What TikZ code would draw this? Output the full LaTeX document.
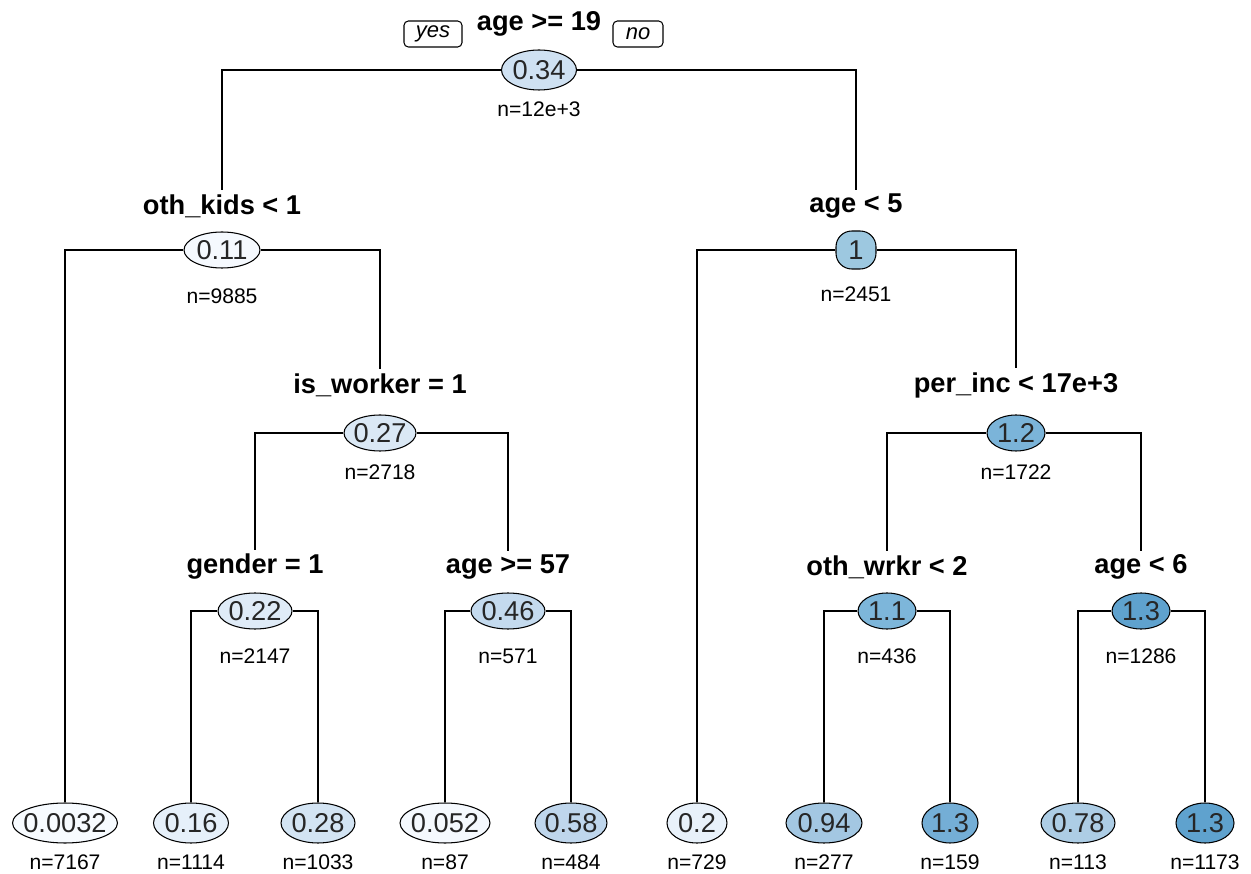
\documentclass[tikz,border=0pt]{standalone}
\usepackage{fontspec}
\setmainfont{Liberation Sans}
\usepackage{tikz}
\usetikzlibrary{shapes.geometric}
\definecolor{c0032}{HTML}{F7FBFF}
\definecolor{c011}{HTML}{F5F9FE}
\definecolor{c016}{HTML}{E6F0FA}
\definecolor{c02}{HTML}{E8F1FA}
\definecolor{c022}{HTML}{DFEBF7}
\definecolor{c027}{HTML}{DAE8F5}
\definecolor{c028}{HTML}{D3E4F3}
\definecolor{c034}{HTML}{CFE1F2}
\definecolor{c046}{HTML}{C4DAEE}
\definecolor{c052}{HTML}{F5F9FE}
\definecolor{c058}{HTML}{BFD6EC}
\definecolor{c078}{HTML}{ADCDE5}
\definecolor{c094}{HTML}{A3C7E2}
\definecolor{c1}{HTML}{9DC8E0}
\definecolor{c11}{HTML}{7DB6DA}
\definecolor{c12}{HTML}{7BB4D9}
\definecolor{c13a}{HTML}{74AED6}
\definecolor{c13b}{HTML}{5FA2CE}

\begin{document}
\begin{tikzpicture}[x=0.02cm, y=-0.02cm, line width=0.6pt,
		split/.style={font=\fontsize{15.5}{18}\selectfont\bfseries, inner sep=2pt},
		val/.style={ellipse, draw, inner xsep=-4pt, inner ysep=0pt,
			minimum height=0.72cm, text=black!85, font=\fontsize{15.5}{18}\selectfont},
		leaf/.style={val, minimum height=0.8cm},
		cnt/.style={font=\fontsize{12}{14}\selectfont},
		yn/.style={draw, rounded corners=2.5pt, inner sep=0pt, minimum height=0.52cm,
			font=\fontsize{12.5}{14}\selectfont\itshape}]
		\useasboundingbox (0,0) rectangle (1251,874);
		% root
		\node(s0)[split] at (539,24){age >= 19};
		\node(yes)[yn, minimum width=1.16cm] at (433,34){yes};
		\node(no)[yn, minimum width=1cm] at (638,34){no};
		\node(v0)[val, fill=c034, minimum width=1.5cm, minimum height=0.8cm] at (539,70){0.34};
		\node(n0)[cnt] at (539,109){n=12e+3};
		% internal splits
		\node(s1)[split] at (222,206){oth\_kids < 1};
		\node(v1)[val, fill=c011, minimum width=1.52cm] at (222,250){0.11};
		\node(n1)[cnt] at (222,296){n=9885};
		\node(s2)[split] at (856,206){age < 5};
		\node(v2)[draw, fill=c1, rounded corners=9pt, inner sep=0pt, minimum width=0.8cm,
			minimum height=0.76cm, text=black!85, font=\fontsize{15.5}{18}\selectfont] at (856,250){1};
		\node(n2)[cnt] at (856,294){n=2451};
		\node(s3)[split] at (380,385){is\_worker = 1};
		\node(v3)[val, fill=c027, minimum width=1.44cm] at (380,433){0.27};
		\node(n3)[cnt] at (380,472){n=2718};
		\node(s4)[split] at (1016,385){per\_inc < 17e+3};
		\node(v4)[val, fill=c12, minimum width=1.16cm] at (1016,433){1.2};
		\node(n4)[cnt] at (1016,472){n=1722};
		\node(s5)[split] at (255,567){gender = 1};
		\node(v5)[val, fill=c022, minimum width=1.48cm] at (255,611){0.22};
		\node(n5)[cnt] at (255,656){n=2147};
		\node(s6)[split] at (508,567){age >= 57};
		\node(v6)[val, fill=c046, minimum width=1.48cm] at (508,611){0.46};
		\node(n6)[cnt] at (508,656){n=571};
		\node(s7)[split] at (887,567){oth\_wrkr < 2};
		\node(v7)[val, fill=c11, minimum width=1.16cm] at (887,611){1.1};
		\node(n7)[cnt] at (887,656){n=436};
		\node(s8)[split] at (1141,567){age < 6};
		\node(v8)[val, fill=c13b, minimum width=1.16cm] at (1141,611){1.3};
		\node(n8)[cnt] at (1141,656){n=1286};
		% leaves
		\node(l1)[leaf, fill=c0032, minimum width=2.1cm] at (65,823){0.0032};
		\node(m1)[cnt] at (65,862){n=7167};
		\node(l2)[leaf, fill=c016, minimum width=1.5cm] at (191,823){0.16};
		\node(m2)[cnt] at (191,862){n=1114};
		\node(l3)[leaf, fill=c028, minimum width=1.48cm] at (318,823){0.28};
		\node(m3)[cnt] at (318,862){n=1033};
		\node(l4)[leaf, fill=c052, minimum width=1.8cm] at (445,823){0.052};
		\node(m4)[cnt] at (445,862){n=87};
		\node(l5)[leaf, fill=c058, minimum width=1.44cm] at (571,823){0.58};
		\node(m5)[cnt] at (571,862){n=484};
		\node(l6)[leaf, fill=c02, minimum width=1.2cm] at (697,823){0.2};
		\node(m6)[cnt] at (697,862){n=729};
		\node(l7)[leaf, fill=c094, minimum width=1.52cm] at (824,823){0.94};
		\node(m7)[cnt] at (824,862){n=277};
		\node(l8)[leaf, fill=c13a, minimum width=1.12cm] at (950,823){1.3};
		\node(m8)[cnt] at (950,862){n=159};
		\node(l9)[leaf, fill=c078, minimum width=1.48cm] at (1078,823){0.78};
		\node(m9)[cnt] at (1078,862){n=113};
		\node(l10)[leaf, fill=c13b, minimum width=1.16cm] at (1205,823){1.3};
		\node(m10)[cnt] at (1205,862){n=1173};
		% branches
		\draw(v0) -| (s1);
		\draw(v0) -| (s2);
		\draw(v1) -| (l1);
		\draw(v1) -| (s3);
		\draw(v2) -| (l6);
		\draw(v2) -| (s4);
		\draw(v3) -| (s5);
		\draw(v3) -| (s6);
		\draw(v4) -| (s7);
		\draw(v4) -| (s8);
		\draw(v5) -| (l2);
		\draw(v5) -| (l3);
		\draw(v6) -| (l4);
		\draw(v6) -| (l5);
		\draw(v7) -| (l7);
		\draw(v7) -| (l8);
		\draw(v8) -| (l9);
		\draw(v8) -| (l10);
	\end{tikzpicture}
\end{document}
